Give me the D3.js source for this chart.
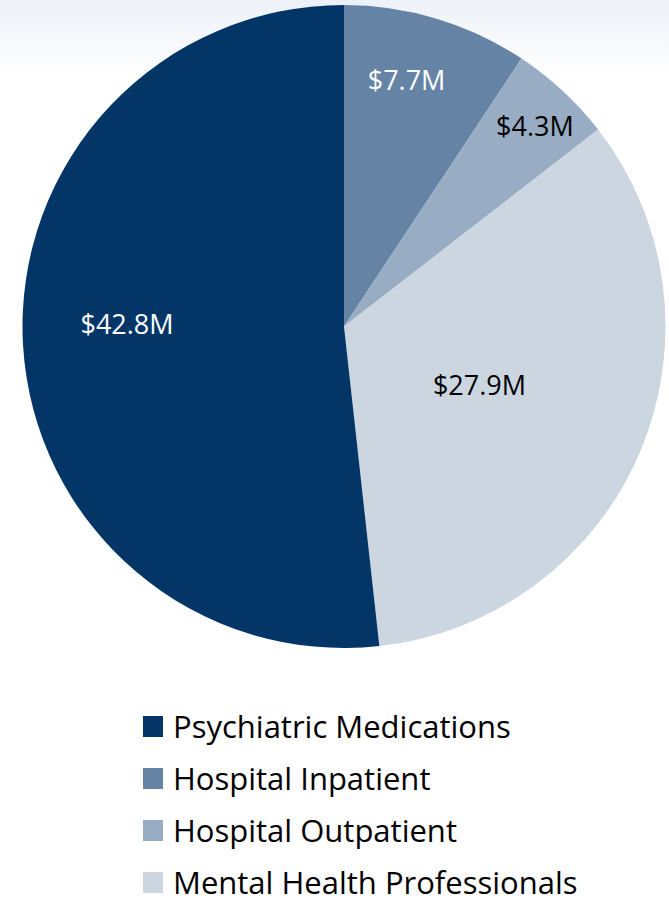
<!DOCTYPE html>
<html>
<head>
<meta charset="utf-8">
<script src="https://cdn.jsdelivr.net/npm/d3@7"></script>
<style>
  body { margin: 0; background: #fff; }
  svg { display: block; }
</style>
</head>
<body>
<div id="chart"></div>
<script>
// pie order, clockwise from 12 o'clock
const categories = ["Hospital Inpatient", "Hospital Outpatient", "Mental Health Professionals", "Psychiatric Medications"];
const values = [7.7, 4.3, 27.9, 42.8];
const labels = ["$7.7M", "$4.3M", "$27.9M", "$42.8M"];
const legendOrder = ["Psychiatric Medications", "Hospital Inpatient", "Hospital Outpatient", "Mental Health Professionals"];

const colors = {
  "Psychiatric Medications": "#033567",
  "Hospital Inpatient": "#6584a5",
  "Hospital Outpatient": "#98adc3",
  "Mental Health Professionals": "#cbd6e1"
};
const labelColors = {
  "Psychiatric Medications": "#fff",
  "Hospital Inpatient": "#fff",
  "Hospital Outpatient": "#000",
  "Mental Health Professionals": "#000"
};
// label distance from centre as fraction of radius, and small angle nudge (deg)
const labelRadius = [0.79, 0.86, 0.46, 0.675];
const labelNudge = [-2.5, 0.8, 0.7, 3.8];

const width = 669, height = 902;
const cx = 344, cy = 326.5, radius = 321.5;

const svg = d3.select("#chart").append("svg")
  .attr("width", width)
  .attr("height", height);

// faint gradient at top
const grad = svg.append("defs").append("linearGradient")
  .attr("id", "bg").attr("x1", 0).attr("y1", 0).attr("x2", 0).attr("y2", 1);
grad.append("stop").attr("offset", "0%").attr("stop-color", "#edf1f8");
grad.append("stop").attr("offset", "100%").attr("stop-color", "#ffffff");
svg.append("rect").attr("width", width).attr("height", 75).attr("fill", "url(#bg)");

const data = categories.map((c, i) => ({ name: c, value: values[i], label: labels[i], lr: labelRadius[i], nudge: labelNudge[i] }));

const pie = d3.pie().sort(null).value(d => d.value);
const arc = d3.arc().innerRadius(0).outerRadius(radius);

const g = svg.append("g").attr("transform", `translate(${cx},${cy})`);
const arcs = pie(data);

g.selectAll("path")
  .data(arcs)
  .enter()
  .append("path")
  .attr("d", arc)
  .attr("fill", d => colors[d.data.name]);

g.selectAll("text.lbl")
  .data(arcs)
  .enter()
  .append("text")
  .attr("class", "lbl")
  .attr("transform", d => {
    const a = (d.startAngle + d.endAngle) / 2 + d.data.nudge * Math.PI / 180;
    const r = radius * d.data.lr;
    return `translate(${Math.sin(a) * r},${-Math.cos(a) * r})`;
  })
  .attr("text-anchor", "middle")
  .attr("dy", "0.35em")
  .style("font-family", "'Open Sans', sans-serif")
  .style("font-size", "27px")
  .style("fill", d => labelColors[d.data.name])
  .text(d => d.data.label);

// legend
const legend = svg.append("g").attr("transform", "translate(143,716)");
legendOrder.forEach((name, i) => {
  legend.append("rect")
    .attr("x", 0)
    .attr("y", i * 52)
    .attr("width", 20)
    .attr("height", 21)
    .attr("fill", colors[name]);
  legend.append("text")
    .attr("x", 30)
    .attr("y", i * 52 + 10.5)
    .attr("dy", "0.36em")
    .style("font-family", "'Open Sans', sans-serif")
    .style("font-size", "31px")
    .style("fill", "#000")
    .text(name);
});
</script>
</body>
</html>
